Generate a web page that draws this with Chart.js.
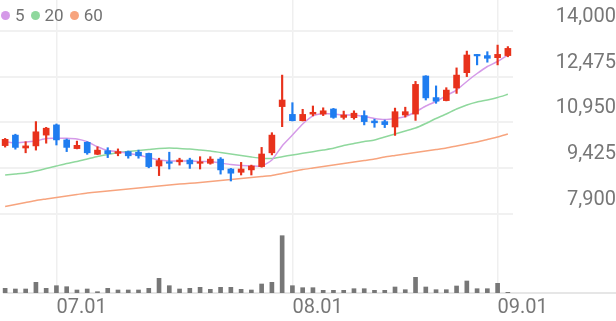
<!DOCTYPE html>
<html>
<head>
    <meta charset="utf-8">
    <title>Daily Candles</title>
    <script src="https://cdn.jsdelivr.net/npm/chart.js"></script>
    <style>
        body { margin: 0; background: #fff; }
        #wrap { position: relative; width: 616px; height: 321px; }
        #legend { position: absolute; left: 1px; top: 4px; display: flex; align-items: center;
                  font-family: Roboto, sans-serif; font-size: 17px; color: #727272; line-height: 22px; }
        .item { display: flex; align-items: center; margin-right: 6px; }
        .dot { width: 9px; height: 9px; border-radius: 50%; margin-right: 5px; }
    </style>
</head>
<body>
    <div id="wrap">
        <canvas id="priceChart"></canvas>
        <div id="legend"></div>
    </div>

    <script>
        // trading days, 2025-06-24 .. 2025-09-02
        const dates = ['06.24','06.25','06.26','06.27','06.30',
            '07.01','07.02','07.03','07.04','07.07','07.08','07.09','07.10','07.11','07.14','07.15','07.16','07.17','07.18',
            '07.21','07.22','07.23','07.24','07.25','07.28','07.29','07.30','07.31',
            '08.01','08.04','08.05','08.06','08.07','08.08','08.11','08.12','08.13','08.14','08.18','08.19','08.20','08.21','08.22',
            '08.25','08.26','08.27','08.28','08.29','09.01','09.02'];

        const opens  = [10180,10530,10100,10170,10530,10870,10370,10080,10290,9890,10010,9920,9980,9960,9920,9500,9640,9640,9700,9590,
                        9590,9730,9400,9290,9370,9480,9940,11480,11220,11010,11230,11230,11400,11120,11110,11180,11000,10980,10800,11200,
                        11230,12500,11780,11680,12100,12610,13220,13180,13110,13180];
        const highs  = [10420,10560,10310,10980,10790,10900,10400,10330,10310,10140,10110,10070,10000,10030,9930,9760,9960,9760,9760,9810,
                        9810,9780,9420,9620,9530,10120,10610,12530,11610,11390,11500,11440,11420,11330,11340,11340,11060,11030,11430,11460,
                        12320,12510,12170,12110,12770,13330,13220,13310,13530,13480];
        const lows   = [10130,10060,9940,10030,10260,10200,9980,10070,9890,9880,9780,9840,9760,9760,9440,9180,9400,9530,9420,9400,
                        9560,9230,9000,9200,9200,9460,9870,10810,11000,11000,11170,11180,11090,11060,11060,10870,10790,10780,10520,11130,
                        11020,11700,11590,11670,11920,12480,12870,12960,12870,13140];
        const closes = [10390,10120,10170,10640,10760,10370,10120,10190,9940,10030,9910,9980,9840,9840,9480,9680,9590,9700,9570,9640,
                        9730,9370,9260,9400,9500,9900,10530,11700,11010,11220,11290,11340,11120,11200,11260,10980,10940,10880,11310,11310,
                        12220,11770,11660,12030,12530,13200,13170,13090,13220,13420];
        const volumes = [470000,400000,400000,1070000,470000,730000,630000,300000,400000,130000,470000,300000,300000,300000,470000,
                         1470000,730000,400000,470000,570000,370000,570000,570000,370000,300000,900000,1070000,5730000,730000,530000,
                         530000,270000,270000,270000,430000,430000,270000,270000,600000,330000,1570000,600000,330000,330000,700000,
                         1200000,430000,430000,970000,70000];

        const ma5  = [10317,10267,10300,10333,10417,10423,10423,10400,10310,10143,10017,9977,9923,9867,9777,9700,9667,9667,9667,9650,
                      9650,9600,9550,9517,9500,9500,9700,10170,10530,10900,11170,11250,11233,11200,11200,11150,11083,11050,11083,11150,
                      11300,11500,11650,11850,12033,12317,12583,12817,12983,13200];
        const ma20 = [9200,9233,9267,9333,9417,9500,9583,9650,9733,9817,9883,9950,9983,10017,10050,10083,10100,10083,10067,10033,
                      10000,9950,9900,9850,9800,9757,9750,9810,9867,9923,9977,10033,10090,10183,10250,10317,10367,10467,10567,10667,
                      10767,10917,11083,11233,11400,11533,11633,11700,11783,11890];
        const ma60 = [8150,8217,8283,8350,8400,8450,8500,8550,8600,8633,8667,8700,8733,8767,8800,8833,8867,8900,8923,8950,
                      8983,9017,9050,9083,9117,9150,9183,9250,9317,9383,9433,9483,9533,9583,9633,9683,9733,9800,9850,9900,
                      9950,10000,10050,10100,10167,10233,10300,10383,10467,10567];

        const maNames = ['5', '20', '60'];
        const maColors = ['#d59ae8', '#8fd89d', '#f7a47e'];
        const priceTicks = [7900, 9425, 10950, 12475, 14000];
        const xTickLabels = ['07.01', '08.01', '09.01'];

        const upColor = '#e8321c';
        const downColor = '#1f7df0';
        const labelFont = { family: 'Roboto', size: 20 };

        // legend drawn as html over the canvas
        const legend = document.getElementById('legend');
        maNames.forEach((name, i) => {
            const item = document.createElement('div');
            item.className = 'item';
            item.innerHTML = '<span class="dot" style="background:' + maColors[i] + '"></span>' + name;
            legend.appendChild(item);
        });

        const candleColors = closes.map((c, i) => c >= opens[i] ? upColor : downColor);

        const baseLine = {
            id: 'baseLine',
            beforeDatasetsDraw(chart) {
                const { ctx, chartArea } = chart;
                ctx.save();
                ctx.strokeStyle = '#e6e6e6';
                ctx.lineWidth = 2;
                ctx.beginPath();
                ctx.moveTo(3, chartArea.bottom);
                ctx.lineTo(chart.width, chartArea.bottom);
                ctx.stroke();
                ctx.restore();
            }
        };

        const maSets = [ma5, ma20, ma60].map((d, i) => ({
            type: 'line',
            label: maNames[i],
            data: d,
            borderColor: maColors[i],
            borderWidth: 1.5,
            pointRadius: 0,
            tension: 0.2,
            yAxisID: 'y',
            order: 5 + i
        }));

        new Chart(document.getElementById('priceChart'), {
            type: 'bar',
            data: {
                labels: dates,
                datasets: [
                    ...maSets,
                    {
                        label: 'wick',
                        data: lows.map((l, i) => [l, highs[i]]),
                        backgroundColor: candleColors,
                        barThickness: 1.5,
                        grouped: false,
                        yAxisID: 'y',
                        order: 1
                    },
                    {
                        label: 'body',
                        data: opens.map((o, i) => [o, closes[i]]),
                        backgroundColor: candleColors,
                        barThickness: 6,
                        minBarLength: 1,
                        grouped: false,
                        yAxisID: 'y',
                        order: 0
                    },
                    {
                        label: 'volume',
                        data: volumes,
                        backgroundColor: '#777777',
                        barThickness: 4,
                        grouped: false,
                        yAxisID: 'yv',
                        order: 2
                    }
                ]
            },
            options: {
                responsive: true,
                maintainAspectRatio: false,
                animation: false,
                layout: { padding: 0 },
                plugins: { legend: { display: false }, tooltip: { enabled: false } },
                scales: {
                    x: {
                        offset: true,
                        grid: { offset: false, color: '#efefef', lineWidth: 1.5, drawTicks: false },
                        border: { display: false },
                        ticks: { align: 'start', autoSkip: false, maxRotation: 0, padding: 3,
                                 color: '#777777', font: labelFont },
                        afterBuildTicks: s => { s.ticks = xTickLabels.map(l => ({ value: dates.indexOf(l) })); },
                        afterFit: s => { s.height = 28; s.paddingLeft = 0; s.paddingRight = 0; }
                    },
                    y: {
                        position: 'right',
                        min: 5267,
                        max: 15033,
                        grid: { color: '#f1f1f1', lineWidth: 2, drawTicks: false },
                        border: { display: false },
                        ticks: { crossAlign: 'far', padding: 37, labelOffset: -14,
                                 color: '#777777', font: labelFont,
                                 callback: v => v.toLocaleString('en-US') },
                        afterBuildTicks: s => { s.ticks = priceTicks.map(v => ({ value: v })); },
                        // label padding would otherwise shrink the plot area top and bottom
                        afterFit: s => { s.width = 103; s.paddingTop = 0; s.paddingBottom = 0; }
                    },
                    yv: { display: false, min: 0, max: 29300000 }
                }
            },
            plugins: [baseLine]
        });
    </script>
</body>
</html>
